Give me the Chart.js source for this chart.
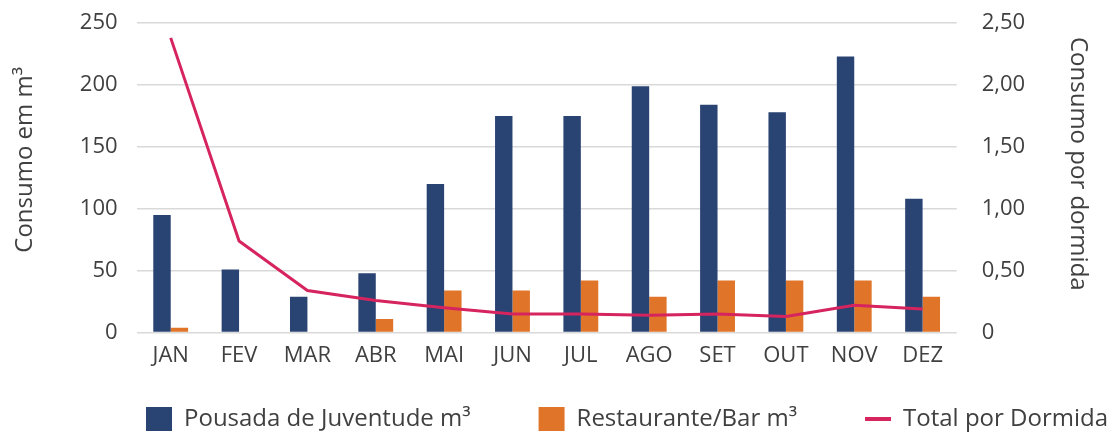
<!DOCTYPE html>
<html>
<head>
<meta charset="utf-8">
<script src="https://cdn.jsdelivr.net/npm/chart.js@4.4.0/dist/chart.umd.min.js"></script>
<style>
  html, body { margin: 0; padding: 0; background: #fff; }
  #wrap { width: 1118px; height: 432px; }
</style>
</head>
<body>
<div id="wrap"><canvas id="myChart"></canvas></div>
<script>
// data
let months = ['JAN', 'FEV', 'MAR', 'ABR', 'MAI', 'JUN', 'JUL', 'AGO', 'SET', 'OUT', 'NOV', 'DEZ'];
let pousada = [95, 51, 29, 48, 120, 175, 175, 199, 184, 178, 223, 108];
let restaurante = [4, 0, 0, 11, 34, 34, 42, 29, 42, 42, 42, 29];
let porDormida = [2.38, 0.74, 0.34, 0.26, 0.20, 0.15, 0.15, 0.14, 0.15, 0.13, 0.22, 0.19];

let fontFamily = '"Open Sans", "Noto Sans", sans-serif';
let textColor = '#404040';

let ctx = document.getElementById('myChart');

// the legend in the original sits a bit right of centre
const legendShift = {
   id: 'legendShift',
   afterLayout(chart) {
      chart.legend.left += 76;
      chart.legend.right += 76;
   }
};

// keep the top tick label from pushing the plot down too far
function trimPadding(scale) {
   scale.paddingTop = 12;
   scale.paddingBottom = 12;
}

let myChart = new Chart(ctx, {
   type: 'bar',
   data: {
      labels: months,
      datasets: [
         {
            type: 'line',
            label: 'Total por Dormida',
            data: porDormida,
            yAxisID: 'y1',
            borderColor: '#d6245f',
            backgroundColor: '#d6245f',
            borderWidth: 3,
            pointRadius: 0,
            tension: 0,
            order: 0
         },
         {
            label: 'Pousada de Juventude m³',
            data: pousada,
            yAxisID: 'y',
            backgroundColor: '#294372',
            categoryPercentage: 0.51,
            barPercentage: 1.0,
            order: 1
         },
         {
            label: 'Restaurante/Bar m³',
            data: restaurante,
            yAxisID: 'y',
            backgroundColor: '#e07428',
            categoryPercentage: 0.51,
            barPercentage: 1.0,
            order: 1
         }
      ]
   },
   plugins: [legendShift],
   options: {
      responsive: true,
      maintainAspectRatio: false,
      animation: false,
      layout: { padding: { left: 0, right: 16, top: 23, bottom: -9 } },
      plugins: {
         tooltip: { enabled: false },
         legend: {
            position: 'bottom',
            labels: {
               usePointStyle: true,
               pointStyleWidth: 26,
               padding: 4,
               color: textColor,
               font: { family: fontFamily, size: 24 },
               // bars first, then the line
               sort: (a, b) => (a.datasetIndex === 0 ? 1 : 0) - (b.datasetIndex === 0 ? 1 : 0),
               generateLabels: function(chart) {
                  let items = Chart.defaults.plugins.legend.labels.generateLabels(chart);
                  items.forEach(function(it) {
                     if (it.datasetIndex === 0) {
                        it.pointStyle = 'line';
                        it.lineWidth = 4;
                        it.strokeStyle = '#d6245f';
                     } else {
                        // extra room after the bar items
                        it.text = it.text + '\u2002\u2002\u2002\u2002\u2002\u2009';
                        it.pointStyle = 'rect';
                        it.lineWidth = 0;
                     }
                  });
                  return items;
               }
            }
         }
      },
      scales: {
         x: {
            grid: { display: false },
            border: { display: false },
            ticks: { color: textColor, font: { family: fontFamily, size: 22 }, padding: 2 },
            afterFit: function(scale) { scale.height += 32; }
         },
         y: {
            position: 'left',
            min: 0,
            max: 250,
            ticks: { stepSize: 50, color: textColor, font: { family: fontFamily, size: 22 }, padding: 19 },
            grid: { color: '#d9d9d9', lineWidth: 1.5, drawTicks: false },
            border: { display: false },
            afterFit: trimPadding,
            title: {
               display: true,
               // leading spaces nudge the title up a little, as in the original
               text: '\u2003\u2002Consumo em m³',
               color: textColor,
               font: { family: fontFamily, size: 24 },
               padding: { top: 11, bottom: 21 }
            }
         },
         y1: {
            position: 'right',
            min: 0,
            max: 2.5,
            ticks: {
               stepSize: 0.5,
               color: textColor,
               font: { family: fontFamily, size: 22 },
               padding: 25,
               callback: function(v) { return v === 0 ? '0' : v.toFixed(2).replace('.', ','); }
            },
            grid: { display: false, drawTicks: false },
            border: { display: false },
            afterFit: trimPadding,
            title: {
               display: true,
               text: 'Consumo por dormida\u2003\u2009',
               color: textColor,
               font: { family: fontFamily, size: 24 },
               padding: { top: 10, bottom: 13 }
            }
         }
      }
   }
});
</script>
</body>
</html>
